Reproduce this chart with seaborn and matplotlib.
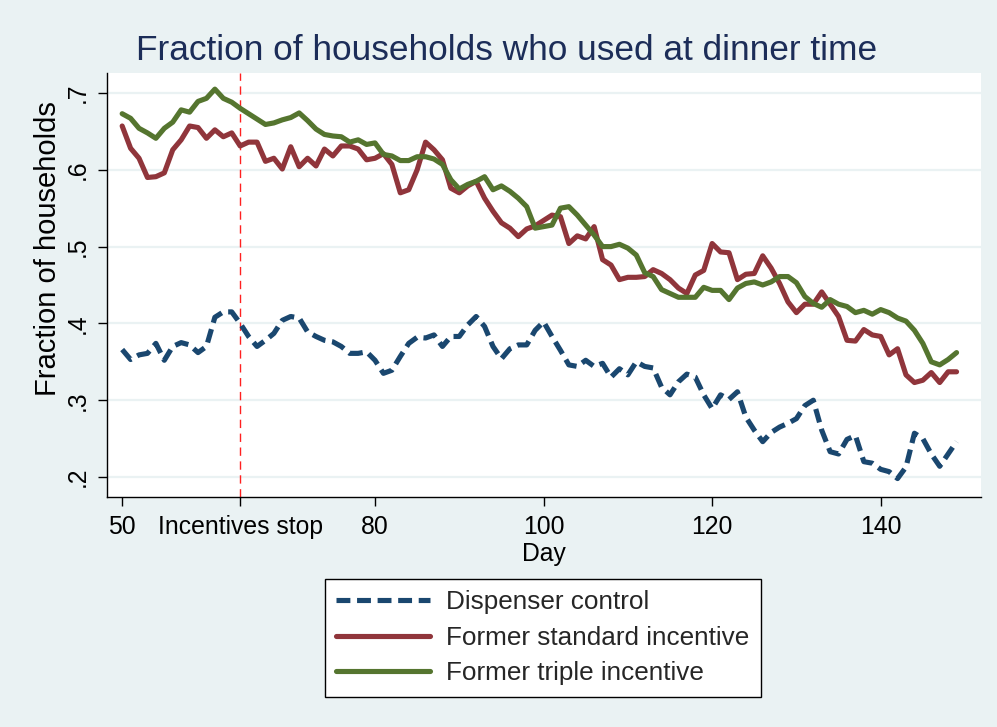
import numpy as np
import pandas as pd
import seaborn as sns
import matplotlib.pyplot as plt

# data, one value per day (days 50..149)
days = list(range(50, 150))

dispenser_control = [
    .366, .353, .359, .361, .374, .352, .370, .375, .372, .362,
    .370, .408, .415, .415, .400, .383, .370, .378, .387, .404,
    .409, .407, .389, .383, .378, .376, .370, .361, .361, .363,
    .352, .335, .339, .357, .374, .382, .381, .385, .370, .383,
    .383, .398, .409, .396, .370, .354, .367, .372, .372, .391,
    .402, .383, .365, .346, .344, .352, .344, .348, .330, .341,
    .333, .350, .344, .342, .317, .307, .324, .334, .330, .307,
    .289, .307, .301, .311, .278, .261, .246, .258, .265, .270,
    .276, .293, .300, .261, .233, .230, .249, .254, .220, .218,
    .210, .207, .198, .213, .257, .250, .230, .214, .230, .246,
]

standard_incentive = [
    .657, .628, .615, .590, .591, .596, .626, .639, .657, .655,
    .641, .652, .643, .648, .631, .636, .636, .611, .615, .601,
    .630, .604, .615, .605, .627, .618, .631, .631, .627, .613,
    .615, .621, .607, .570, .574, .600, .636, .626, .613, .576,
    .570, .579, .585, .563, .546, .531, .524, .513, .523, .527,
    .534, .541, .539, .504, .514, .510, .526, .483, .476, .457,
    .460, .460, .461, .470, .465, .457, .446, .439, .463, .469,
    .504, .493, .492, .457, .464, .465, .488, .472, .452, .428,
    .414, .425, .425, .441, .425, .409, .378, .377, .392, .385,
    .383, .359, .367, .333, .323, .326, .336, .323, .337, .337,
]

triple_incentive = [
    .673, .667, .654, .648, .641, .654, .662, .678, .675, .689,
    .693, .705, .693, .688, .680, .673, .666, .659, .661, .665,
    .668, .674, .664, .653, .646, .644, .643, .636, .639, .633,
    .635, .620, .618, .612, .612, .617, .617, .614, .607, .587,
    .575, .581, .585, .591, .574, .579, .572, .563, .552, .524,
    .526, .528, .550, .552, .541, .528, .515, .500, .500, .503,
    .498, .489, .466, .461, .444, .439, .434, .434, .434, .447,
    .443, .443, .431, .446, .452, .454, .450, .454, .461, .461,
    .453, .435, .426, .421, .431, .425, .422, .414, .417, .412,
    .418, .414, .407, .403, .391, .374, .350, .346, .353, .362,
]

groups = ['Dispenser control', 'Former standard incentive', 'Former triple incentive']
incentive_stop_day = 64
x_ticks = [50, 64, 80, 100, 120, 140]
x_ticklabels = ['50', 'Incentives stop', '80', '100', '120', '140']
y_ticks = [.2, .3, .4, .5, .6, .7]
y_ticklabels = ['.2', '.3', '.4', '.5', '.6', '.7']

df = pd.DataFrame({
    'Day': days * 3,
    'Fraction': dispenser_control + standard_incentive + triple_incentive,
    'Group': np.repeat(groups, len(days)),
})

bg = '#EAF2F3'
palette = {groups[0]: '#1a476f', groups[1]: '#90353b', groups[2]: '#55752f'}
dashes = {groups[0]: (2.7, 1.3), groups[1]: '', groups[2]: ''}

sns.set_style('white')
plt.rcParams['font.family'] = ['Liberation Sans', 'DejaVu Sans']

fig = plt.figure(figsize=(9.97, 7.27), dpi=100, facecolor=bg)
ax = fig.add_axes([107 / 997, 1 - 497 / 727, 874 / 997, 424 / 727])
ax.set_facecolor('white')

sns.lineplot(data=df, x='Day', y='Fraction', hue='Group', style='Group',
             palette=palette, dashes=dashes, linewidth=3.7, legend=False, ax=ax)

ax.axvline(incentive_stop_day, color='#ff2020', lw=1.0, ls=(0, (6, 4)), zorder=1)

ax.set_xlim(48.2, 151.9)
ax.set_ylim(0.174, 0.726)
ax.set_yticks(y_ticks)
ax.set_yticklabels(y_ticklabels, rotation=90, va='center')
ax.set_xticks(x_ticks)
ax.set_xticklabels(x_ticklabels)
ax.yaxis.grid(True, color=bg, lw=1.6)
ax.xaxis.grid(False)
ax.set_axisbelow(True)

for s in ['top', 'right']:
    ax.spines[s].set_visible(False)
for s in ['left', 'bottom']:
    ax.spines[s].set_color('black')
    ax.spines[s].set_linewidth(1.0)

ax.tick_params(axis='both', which='major', direction='out', length=6.5, width=1.0,
               color='black', labelsize=17.8, labelcolor='black', left=True, bottom=True)
ax.tick_params(axis='y', pad=6)
ax.tick_params(axis='x', pad=6.5)

ax.set_xlabel('Day', fontsize=17.8, color='black')
ax.xaxis.set_label_coords(0.5, -0.105)
ax.set_ylabel('Fraction of households', fontsize=21, color='black')
ax.yaxis.set_label_coords(-0.052, 0.585)

fig.text(507 / 997, 1 - 50 / 727, 'Fraction of households who used at dinner time',
         ha='center', va='center', fontsize=25.4, color='#1c2d58')

handles = ax.get_lines()[:3]
leg = fig.legend(handles, groups, loc='upper center', bbox_to_anchor=(543 / 997, 1 - 579 / 727),
                 fontsize=18.8, frameon=True, fancybox=False, framealpha=1, facecolor='white',
                 edgecolor='black', handlelength=3.6, handletextpad=0.61, labelspacing=0.44,
                 borderpad=0.44, borderaxespad=0)
leg.get_frame().set_linewidth(1.0)

plt.savefig('out.png', dpi=100, facecolor=bg)
